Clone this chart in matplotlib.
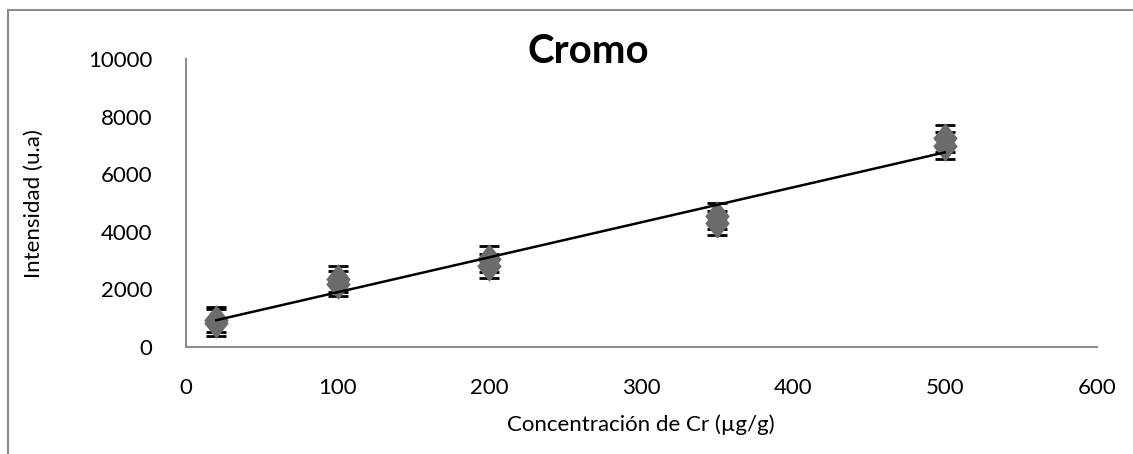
import numpy as np
import matplotlib.pyplot as plt
from matplotlib.patches import Rectangle

plt.rcParams['font.family'] = ['Lato', 'DejaVu Sans']

# replicate readings for each standard
conc = [20, 20, 100, 100, 200, 200, 350, 350, 500, 500]
intensity = [850, 950, 2200, 2350, 2800, 3050, 4300, 4550, 7000, 7250]
err = [470, 430, 430, 450, 420, 450, 420, 450, 480, 460]

x_ticks = [0, 100, 200, 300, 400, 500, 600]
y_ticks = [0, 2000, 4000, 6000, 8000, 10000]

fig = plt.figure(figsize=(11.33, 4.54), dpi=100)
ax = fig.add_axes([0.164, 0.2357, 0.804, 0.634])

# chart frame
fig.patches.append(Rectangle((8 / 1133, -0.1), 1.2, 1.1 - 10 / 454,
                             transform=fig.transFigure, fill=False,
                             edgecolor='#8c8c8c', linewidth=1.5))

# slightly tall diamond, like the spreadsheet marker
diamond = [(0, 1), (0.8, 0), (0, -1), (-0.8, 0), (0, 1)]
ax.errorbar(conc, intensity, yerr=err, fmt='none', ecolor='black',
            elinewidth=1.5, capsize=7, capthick=2, zorder=3)
ax.plot(conc, intensity, linestyle='none', marker=diamond, markersize=22,
        color='#6b6b6b', markeredgewidth=0, zorder=3)

# linear trend line over the data range
m, b = np.polyfit(conc, intensity, 1)
xs = np.array([min(conc), max(conc)])
ax.plot(xs, m * xs + b, color='black', linewidth=1.8, zorder=4)

ax.set_xlim(0, 600)
ax.set_ylim(0, 10000)
ax.set_xticks(x_ticks)
ax.set_yticks(y_ticks)
ax.tick_params(length=0, labelsize=16)
ax.tick_params(axis='x', pad=22)
ax.tick_params(axis='y', pad=24)
for s in ['top', 'right']:
    ax.spines[s].set_visible(False)
for s in ['left', 'bottom']:
    ax.spines[s].set_color('#8c8c8c')
    ax.spines[s].set_linewidth(1.5)

fig.text(0.519, 0.887, 'Cromo', fontsize=29, fontweight='bold',
         ha='center', va='center')
ax.set_xlabel('Concentración de Cr (µg/g)', fontsize=16, labelpad=12)
ax.set_ylabel('Intensidad (u.a)', fontsize=16, labelpad=32)

fig.savefig('out.png', dpi=100)
